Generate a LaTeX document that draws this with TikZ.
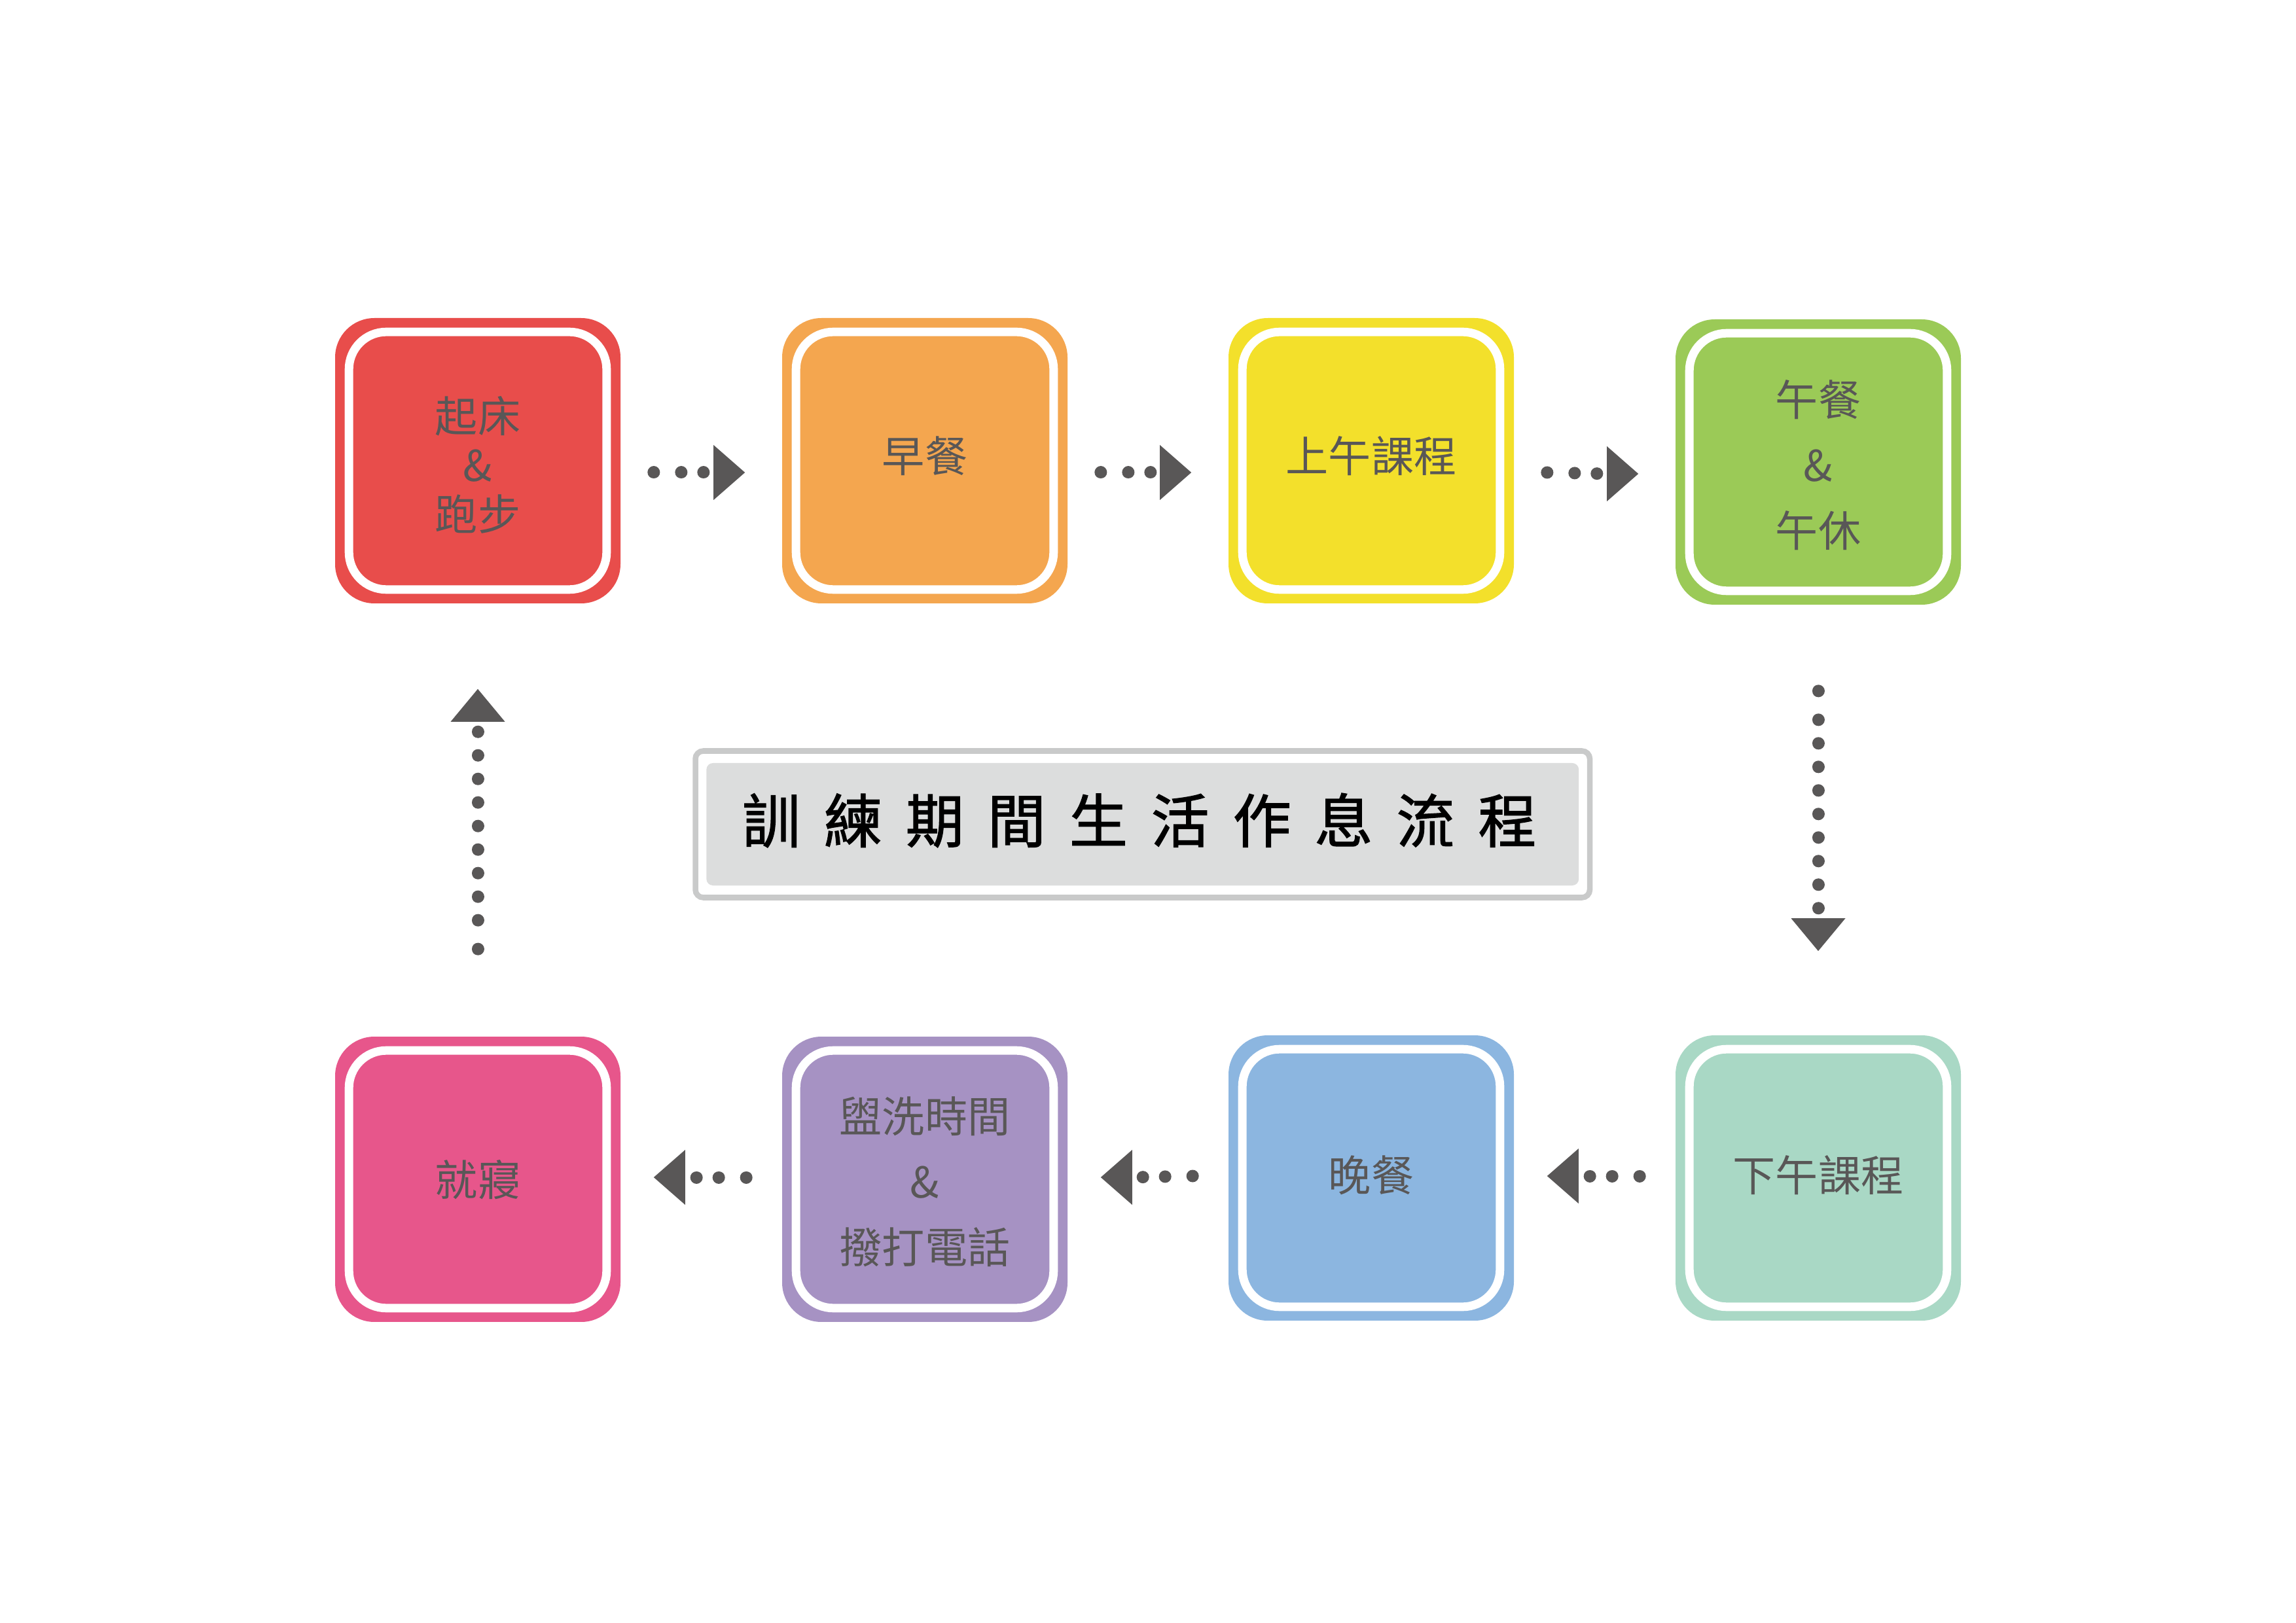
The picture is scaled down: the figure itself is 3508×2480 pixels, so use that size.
\documentclass[tikz,border=0pt]{standalone}
\usepackage{fontspec}
\usetikzlibrary{calc}
\newfontfamily\cjkfont{Noto Sans CJK TC}
\newfontfamily\cjktitle[FakeBold=1.5]{Noto Sans CJK TC}
\definecolor{cRed}{HTML}{E84D4B}
\definecolor{cOrange}{HTML}{F4A64F}
\definecolor{cYellow}{HTML}{F3E02B}
\definecolor{cGreen}{HTML}{9BCA57}
\definecolor{cMint}{HTML}{A9D8C5}
\definecolor{cBlue}{HTML}{8CB6E0}
\definecolor{cPurple}{HTML}{A692C3}
\definecolor{cPink}{HTML}{E7568B}
\definecolor{txtgray}{HTML}{595757}
\definecolor{arrowgray}{HTML}{595757}
\definecolor{titleborder}{HTML}{C9CACA}
\definecolor{titlefill}{HTML}{DCDDDD}
\newcommand\titlegap{\kern8.7pt}
\begin{document}
\begin{tikzpicture}[x=0.2409pt,y=-0.2409pt,
  box/.style={rectangle, minimum width=105.03pt, minimum height=105.03pt,
    rounded corners=14.45pt, inner sep=0pt, draw=none},
  boxtext/.style={text=txtgray, align=center, inner sep=0pt,
    font=\cjkfont\fontsize{15.7pt}{18.07pt}\selectfont},
  widetext/.style={boxtext, font=\cjkfont\fontsize{15.7pt}{24.1pt}\selectfont},
  ring/.style={draw=white, line width=3.13pt, rounded corners=13.73pt},
  hdots/.style={draw=arrowgray, line width=4.58pt, line cap=round,
    dash pattern=on 0.01pt off 10.11pt on 0.01pt off 8.18pt on 0.01pt off 200pt},
  vdots/.style={draw=arrowgray, line width=4.58pt, line cap=round,
    dash pattern=on 0.01pt off 10.59pt on 0.01pt off 8.66pt on 0.01pt off 8.66pt
      on 0.01pt off 8.66pt on 0.01pt off 8.66pt on 0.01pt off 8.66pt on 0.01pt off 8.66pt
      on 0.01pt off 8.66pt on 0.01pt off 8.66pt on 0.01pt off 200pt},
  tip/.style={fill=arrowgray},
  titleouter/.style={rectangle, minimum width=329.2pt, minimum height=53.96pt,
    rounded corners=2.9pt, draw=titleborder, line width=2.05pt, fill=white, inner sep=0pt},
  titleinner/.style={rectangle, minimum width=321.1pt, minimum height=45.05pt,
    rounded corners=2.4pt, fill=titlefill, draw=none, inner sep=0pt},
  titletext/.style={text=black, inner sep=0pt, font=\cjktitle\fontsize{21.4pt}{24pt}\selectfont}
]
\fill[white] (0,0) rectangle (3508,2480);

% boxes
\node[box, fill=cRed] (r1) at (730,704) {};
\node[box, fill=cOrange] (r2) at (1413,704) {};
\node[box, fill=cYellow] (r3) at (2095,704) {};
\node[box, fill=cGreen] (r4) at (2778,706) {};
\node[box, fill=cMint] (r5) at (2778,1800) {};
\node[box, fill=cBlue] (r6) at (2095,1800) {};
\node[box, fill=cPurple] (r7) at (1413,1802) {};
\node[box, fill=cPink] (r8) at (730,1802) {};

\foreach \n in {r1,r2,r3,r4,r5,r6,r7,r8}
  \draw[ring] ($(\n.north west)+(22,22)$) rectangle ($(\n.south east)+(-22,-22)$);

% box texts
\node[boxtext] (t1) at ($(r1)+(0,6)$) {起床\\\&\\跑步};
\node[boxtext] (t2) at ($(r2)+(0,-7)$) {早餐};
\node[boxtext] (t3) at ($(r3)+(0,-7)$) {上午課程};
\node[widetext] (t4) at ($(r4)+(0,5)$) {午餐\\\&\\午休};
\node[boxtext] (t5) at ($(r5)+(0,-4)$) {下午課程};
\node[boxtext] (t6) at ($(r6)+(0,-4)$) {晚餐};
\node[widetext] (t7) at ($(r7)+(0,4)$) {盥洗時間\\\&\\撥打電話};
\node[boxtext] (t8) at ($(r8)+(0,1)$) {就寢};

% title
\node[titleouter] (title) at (1745.75,1259.5) {};
\node[titleinner] (titlein) at (title.center) {};
\node[titletext] (titletxt) at ($(title.center)+(-5,-6)$)
  {訓\titlegap 練\titlegap 期\titlegap 間\titlegap 生\titlegap 活\titlegap 作\titlegap 息\titlegap 流\titlegap 程};

% top row connectors (rightwards)
\foreach \s/\t in {r1/r2, r2/r3, r3/r4}{
  \path ($(\s.east)+(50,18)$) coordinate (cs) ($(\t.west)+(-56,18)$) coordinate (ct);
  \draw[hdots] (cs) -- ($(ct)+(-48,0)$);
  \fill[tip] (ct) -- ++(-48,-42) -- ++(0,84) -- cycle;
}
% bottom row connectors (leftwards)
\foreach \s/\t in {r5/r6, r6/r7, r7/r8}{
  \path ($(\s.west)+(-54,-3)$) coordinate (cs) ($(\t.east)+(50,-3)$) coordinate (ct);
  \draw[hdots] (cs) -- ($(ct)+(48,0)$);
  \fill[tip] (ct) -- ++(48,-42) -- ++(0,84) -- cycle;
}
% right column (down)
\path ($(r4.south)+(0,131)$) coordinate (ds) ($(r5.north)+(0,-128)$) coordinate (dt);
\draw[vdots] (ds) -- ($(dt)+(0,-50)$);
\fill[tip] (dt) -- ++(-41.5,-50) -- ++(83,0) -- cycle;
% left column (up)
\path ($(r8.north)+(0,-133)$) coordinate (us) ($(r1.south)+(0,130)$) coordinate (ut);
\draw[vdots] (us) -- ($(ut)+(0,50)$);
\fill[tip] (ut) -- ++(-41.5,50) -- ++(83,0) -- cycle;
\end{tikzpicture}
\end{document}
